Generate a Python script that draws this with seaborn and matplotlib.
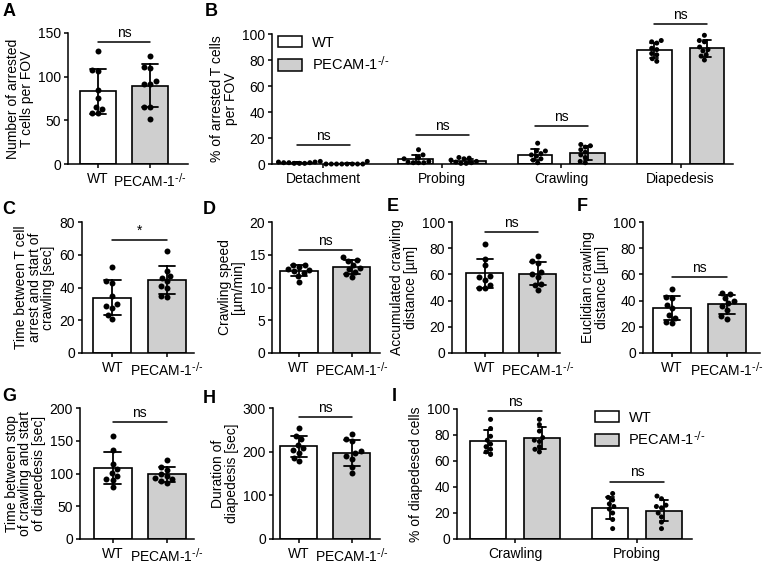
import matplotlib.pyplot as plt
from matplotlib.patches import Patch
import pandas as pd
import numpy as np
import seaborn as sns

sns.set_style("ticks")
plt.rcParams.update({
    'font.family': ['Liberation Sans', 'DejaVu Sans'],
    'mathtext.default': 'regular',
    'font.size': 10,
    'axes.labelsize': 10,
    'xtick.labelsize': 10,
    'ytick.labelsize': 10,
    'axes.linewidth': 1.1,
    'axes.edgecolor': 'black',
    'axes.labelcolor': 'black',
    'text.color': 'black',
    'xtick.color': 'black',
    'ytick.color': 'black',
    'xtick.major.width': 1.1,
    'ytick.major.width': 1.1,
    'xtick.major.size': 3,
    'ytick.major.size': 3,
    'xtick.major.pad': 2.5,
    'ytick.major.pad': 2,
})

# --- datos (cada punto = un FOV / experimento) ---
genotypes = ['WT', r'PECAM-1$^{\text{-/-}}$']
bar_colors = ['white', '#cfcfcf']

a_wt = [129, 108, 107, 85, 76, 65, 63, 58, 58]
a_ko = [124, 111, 110, 95, 92, 92, 65, 65, 51]

b_behaviors = ['Detachment', 'Probing', 'Crawling', 'Diapedesis']
b_detach_wt = [2, 1.5, 1.5, 1, 1, 0.5, 0.5, 0.5, 1]
b_detach_ko = [2, 0, 0, 0, 0, 0, 0, 0, 0]
b_probe_wt = [11, 7, 5, 4, 2, 1.5, 1, 1, 1]
b_probe_ko = [5, 4.5, 4, 3, 2, 1.5, 1, 0.5, 0.5]
b_crawl_wt = [16, 10, 10, 8, 7, 6, 4, 3, 1]
b_crawl_ko = [15, 14, 13, 11, 9, 7, 5, 2, 1]
b_diap_wt = [95, 94, 93, 89, 88, 85, 84, 81, 79]
b_diap_ko = [99, 95, 94, 90, 88, 87, 84, 83, 80]

c_wt = [52.5, 44, 43, 35, 30, 28.5, 27.5, 23.5, 21]
c_ko = [62, 50, 47, 46, 44, 41, 40, 35, 34]
d_wt = [13.5, 13.5, 13.1, 12.8, 12.6, 12.5, 12.2, 11.8, 10.9]
d_ko = [14.6, 14.2, 14.0, 13.5, 13.0, 12.8, 12.4, 12.0, 11.6]
e_wt = [83, 72, 67, 59, 58, 56, 52, 50, 50]
e_ko = [74, 70, 69, 62, 60, 58, 53, 52, 48]
f_wt = [49, 43, 42, 37, 34, 29, 27, 24, 23]
f_ko = [46, 45, 42, 40, 38, 36, 33, 28, 26]
g_wt = [158, 136, 114, 107, 101, 96, 92, 90, 80]
g_ko = [120, 110, 106, 99, 96, 93, 91, 88, 86]
h_wt = [254, 235, 228, 216, 208, 204, 198, 186, 178]
h_ko = [240, 228, 224, 201, 196, 190, 184, 165, 151]

i_behaviors = ['Crawling', 'Probing']
i_crawl_wt = [92, 85, 79, 76, 73, 71, 69, 67, 65]
i_crawl_ko = [92, 88, 83, 78, 76, 75, 71, 69, 67]
i_probe_wt = [35, 32, 30, 27, 25, 23, 20, 15, 8]
i_probe_ko = [33, 31, 26, 25, 24, 20, 17, 13, 8]

# --- figura ---
W, H = 763, 566
fig = plt.figure(figsize=(W / 100, H / 100), dpi=100)


def add_ax(l, t, r, b):
    # posiciones en píxeles -> fracción de figura
    return fig.add_axes([l / W, 1 - b / H, (r - l) / W, (b - t) / H])


def sig_bar(ax, x0, x1, y, txt='ns'):
    ax.plot([x0, x1], [y, y], color='black', lw=1.1, clip_on=False)
    ax.annotate(txt, ((x0 + x1) / 2, y), xytext=(0, 1.5), textcoords='offset points',
                ha='center', va='bottom', fontsize=10, annotation_clip=False)


def finish(ax, ylim, yticks, ylabel, xlim):
    ax.set_xlim(*xlim)
    ax.set_ylim(*ylim)
    ax.set_yticks(yticks)
    ax.set_xlabel('')
    ax.set_ylabel(ylabel, labelpad=3, linespacing=0.95)
    for c in ax.collections:
        c.set_clip_on(False)
    sns.despine(ax=ax)


def two_group(ax, wt, ko, ylim, yticks, ylabel, xlim, sig_y, sig_txt='ns'):
    df = pd.DataFrame({'group': [genotypes[0]] * len(wt) + [genotypes[1]] * len(ko),
                       'value': wt + ko})
    sns.barplot(data=df, x='group', y='value', hue='group', order=genotypes,
                hue_order=genotypes, palette=bar_colors, width=0.7, errorbar='sd',
                capsize=0.3, err_kws={'color': 'black', 'linewidth': 1.3},
                edgecolor='black', linewidth=1.2, legend=False, ax=ax)
    sns.swarmplot(data=df, x='group', y='value', order=genotypes, color='black',
                  size=4.3, ax=ax)
    sig_bar(ax, 0, 1, sig_y, sig_txt)
    finish(ax, ylim, yticks, ylabel, xlim)


def grouped(ax, behaviors, wt_lists, ko_lists, ylim, yticks, ylabel, xlim, sig_ys):
    rows = []
    for beh, wt, ko in zip(behaviors, wt_lists, ko_lists):
        rows += [(beh, genotypes[0], v) for v in wt]
        rows += [(beh, genotypes[1], v) for v in ko]
    df = pd.DataFrame(rows, columns=['behavior', 'group', 'value'])
    sns.barplot(data=df, x='behavior', y='value', hue='group', order=behaviors,
                hue_order=genotypes, palette=bar_colors, width=0.888, gap=0.34,
                errorbar='sd', capsize=0.14, err_kws={'color': 'black', 'linewidth': 1.3},
                edgecolor='black', linewidth=1.2, legend=False, ax=ax)
    sns.swarmplot(data=df, x='behavior', y='value', hue='group', order=behaviors,
                  hue_order=genotypes, palette=['black', 'black'], dodge=True,
                  size=3.6, legend=False, warn_thresh=1, ax=ax)
    for i, y in enumerate(sig_ys):
        sig_bar(ax, i - 0.222, i + 0.222, y)
    finish(ax, ylim, yticks, ylabel, xlim)


def legend(ax, anchor):
    handles = [Patch(facecolor=c, edgecolor='black', linewidth=1.1, label=g)
               for c, g in zip(bar_colors, genotypes)]
    ax.legend(handles=handles, loc='upper left', bbox_to_anchor=anchor, frameon=False,
              borderaxespad=0, borderpad=0, handlelength=1.65, handleheight=0.8,
              handletextpad=0.65, labelspacing=0.35, fontsize=10.5)


# A
ax = add_ax(68, 33, 188, 164)
two_group(ax, a_wt, a_ko, (0, 150), [0, 50, 100, 150],
          'Number of arrested\nT cells per FOV', (-0.58, 1.73), 140)

# B
ax = add_ax(272, 34, 733, 164)
grouped(ax, b_behaviors, [b_detach_wt, b_probe_wt, b_crawl_wt, b_diap_wt],
        [b_detach_ko, b_probe_ko, b_crawl_ko, b_diap_ko], (0, 100),
        range(0, 101, 20), '% of arrested T cells\nper FOV', (-0.43, 3.44),
        [14.3, 22, 28.9, 107.4])
legend(ax, (0.013, 0.985))

# C
ax = add_ax(82, 222, 194, 353)
two_group(ax, c_wt, c_ko, (0, 80), range(0, 81, 20),
          'Time between T cell\narrest and start of\ncrawling [sec]', (-0.56, 1.5), 68.8, '*')

# D
ax = add_ax(272, 222, 380, 353)
two_group(ax, d_wt, d_ko, (0, 20), range(0, 21, 5),
          'Crawling speed\n[µm/min]', (-0.51, 1.53), 15.7)

# E
ax = add_ax(452, 222, 560, 353)
two_group(ax, e_wt, e_ko, (0, 100), range(0, 101, 20),
          'Accumulated crawling\ndistance [µm]', (-0.62, 1.42), 92.4)

# F
ax = add_ax(643, 222, 760, 353)
two_group(ax, f_wt, f_ko, (0, 100), range(0, 101, 20),
          'Euclidian crawling\ndistance [µm]', (-0.53, 1.6), 58)

# G
ax = add_ax(80, 408, 194, 539)
two_group(ax, g_wt, g_ko, (0, 200), range(0, 201, 50),
          'Time between stop\nof crawling and start\nof diapedesis [sec]', (-0.6, 1.5), 178.6)

# H
ax = add_ax(273, 408, 380, 539)
two_group(ax, h_wt, h_ko, (0, 300), range(0, 301, 100),
          'Duration of\ndiapedesis [sec]', (-0.49, 1.53), 279)

# I
ax = add_ax(457, 409, 692, 539)
grouped(ax, i_behaviors, [i_crawl_wt, i_probe_wt], [i_crawl_ko, i_probe_ko],
        (0, 100), range(0, 101, 20), '% of diapedesed cells', (-0.475, 1.45),
        [98.7, 44.2])
legend(ax, (0.587, 0.985))

# letras de panel
for letter, x, y in [('A', 3, 3), ('B', 205, 3), ('C', 2, 201), ('D', 203, 201),
                     ('E', 387, 198), ('F', 577, 198), ('G', 2, 388), ('H', 203, 390),
                     ('I', 392, 388)]:
    fig.text(x / W, 1 - y / H, letter, fontsize=13, fontweight='bold', va='top', ha='left')

fig.savefig('out.png', dpi=100)
